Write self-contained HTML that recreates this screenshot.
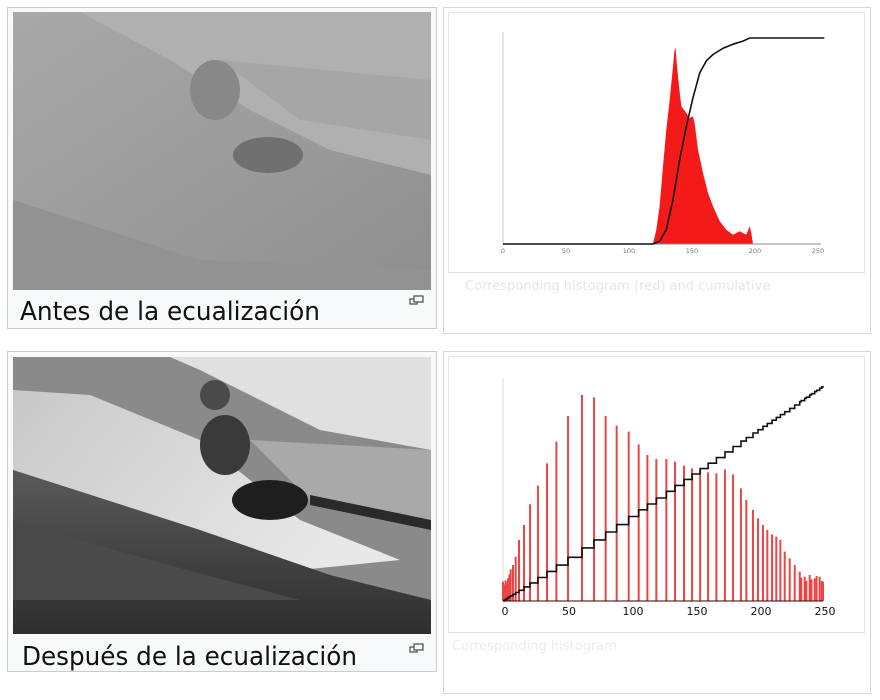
<!DOCTYPE html>
<html><head><meta charset="utf-8">
<style>
html,body{margin:0;padding:0;background:#fff;}
svg{display:block;font-family:"DejaVu Sans","Liberation Sans",sans-serif;}
</style></head>
<body>
<svg id="root" width="880" height="700" viewBox="0 0 880 700">
<defs>
<linearGradient id="gTop" x1="0" y1="0" x2="1" y2="1">
<stop offset="0" stop-color="#a8a8a8"/><stop offset="0.5" stop-color="#9c9c9c"/><stop offset="1" stop-color="#8e8e8e"/>
</linearGradient>
<linearGradient id="gBright" x1="0" y1="0" x2="1" y2="0.4">
<stop offset="0" stop-color="#c8c8c8"/><stop offset="1" stop-color="#e8e8e8"/>
</linearGradient>
<linearGradient id="gDark" x1="0" y1="0" x2="0" y2="1">
<stop offset="0" stop-color="#5a5a5a"/><stop offset="1" stop-color="#2e2e2e"/>
</linearGradient>
</defs>

<g>
<rect x="7.5" y="7.5" width="429" height="321" fill="#f8f9fa" stroke="#c8ccd1"/>
<g>
<rect x="13" y="12" width="418" height="278" fill="url(#gTop)"/>
<polygon points="80,12 431,12 431,175 330,150 250,110 170,60" fill="#b0b0b0"/>
<polygon points="220,60 431,80 431,140 300,120" fill="#a6a6a6"/>
<ellipse cx="268" cy="155" rx="35" ry="18" fill="#707070"/>
<ellipse cx="215" cy="90" rx="25" ry="30" fill="#888"/>
<polygon points="13,200 200,260 431,270 431,290 13,290" fill="#929292"/>
</g>
<text x="20" y="320" font-size="26" fill="#111" textLength="300" lengthAdjust="spacingAndGlyphs">Antes de la ecualización</text>
<g fill="none" stroke="#555" stroke-width="1.3">
<rect x="410" y="299" width="7" height="5"/><rect x="414" y="296" width="9" height="6" fill="#f8f9fa"/>
</g>
</g>

<g>
<rect x="7.5" y="351.5" width="429" height="320" fill="#f8f9fa" stroke="#c8ccd1"/>
<g>
<rect x="13" y="357" width="418" height="277" fill="#8a8a8a"/>
<polygon points="170,357 431,357 431,450 320,430 250,395 200,370" fill="#e0e0e0"/>
<polygon points="250,440 431,450 431,530 310,500" fill="#a9a9a9"/>
<polygon points="13,390 90,395 200,440 300,520 400,560 300,570 200,530 13,470" fill="url(#gBright)"/>
<polygon points="13,470 200,530 330,575 431,600 431,634 13,634" fill="url(#gDark)"/>
<polygon points="13,520 150,560 300,600 13,600" fill="#4a4a4a"/>
<ellipse cx="270" cy="500" rx="38" ry="20" fill="#1e1e1e"/>
<ellipse cx="225" cy="445" rx="25" ry="30" fill="#3a3a3a"/>
<ellipse cx="215" cy="395" rx="15" ry="15" fill="#4a4a4a"/>
<polygon points="310,495 431,520 431,530 310,505" fill="#2a2a2a"/>
</g>
<text x="22" y="665" font-size="26" fill="#111" textLength="335" lengthAdjust="spacingAndGlyphs">Después de la ecualización</text>
<g fill="none" stroke="#555" stroke-width="1.3">
<rect x="410" y="647" width="7" height="5"/><rect x="414" y="644" width="9" height="6" fill="#f8f9fa"/>
</g>
</g>

<rect x="443.5" y="7.5" width="427" height="326" fill="#fff" stroke="#d4d6d9"/>
<rect x="448.5" y="12.5" width="416" height="260" fill="#fff" stroke="#e2e4e6"/>
<text x="465" y="290" font-size="13" fill="#e6e6e6">Corresponding histogram (red) and cumulative</text>
<rect x="443.5" y="351.5" width="427" height="342" fill="#fff" stroke="#d4d6d9"/>
<rect x="448.5" y="356.5" width="416" height="276" fill="#fff" stroke="#e2e4e6"/>
<text x="452" y="650" font-size="13" fill="#ececec">Corresponding histogram</text>

<g id="chart1"></g>
<g id="chart2"></g>
</svg>
<script>
const c1Levels = [119,121.7,124.3,127,129.6,132.3,134.9,136.2,137,138.1,139.7,141.5,145.5,148.1,150.8,152.1,154.8,158.7,162.7,166.7,172,177.2,182.5,187.8,193.1,195.8,197.1,198.4];
const c1Counts = [0,43,113,233,343,433,533,583,588,533,473,413,393,378,383,363,283,213,153,113,68,43,28,38,28,53,33,0];
const c1CdfLevels = [0,119,124.3,129.6,134.9,140.2,145.5,150.8,156.1,161.4,166.7,174.6,182.5,190.5,195.8,255];
const c1CdfValues = [0,0,0.013,0.07,0.215,0.41,0.57,0.71,0.83,0.89,0.92,0.95,0.97,0.985,1,1];
const c1Ticks = [0,50,100,150,200,250];
const c2Levels = [0,1,2,3,3.9,5,6,7.8,9.9,12.5,16.4,21.1,27.3,34.4,41.7,50.8,61.7,71.1,80.2,88.8,98.2,106,112.8,119.8,127.6,134.4,141.4,147.7,154,160.2,166.7,173.4,179.7,185.9,190.1,195.3,199.2,203.1,206.5,210.2,213.5,216.7,220.1,224,227.9,231.8,233,235.7,237,239.6,241,243.5,245,247.4,249,250];
const c2Counts = [58,50,62,55,68,80,95,108,133,183,228,290,346,413,478,555,618,611,555,526,508,470,438,426,426,418,406,398,393,386,383,395,380,338,303,273,248,228,213,200,193,183,148,128,108,88,70,73,60,78,65,68,75,73,60,58];
const c2Ticks = [0,50,100,150,200,250];

const NS='http://www.w3.org/2000/svg';
function mk(parent, tag, attrs){const e=document.createElementNS(NS,tag);for(const k in attrs)e.setAttribute(k,attrs[k]);parent.appendChild(e);return e;}

(function(){
const g=document.getElementById('chart1');
const x0=503,x1=818,yb=244,yTop=32;
const xs=v=>x0+(v/250)*(x1-x0);
const ys=c=>yb-c/3;
const yc=f=>yb-f*206;
const ax=mk(g,'line',{x1:x0,y1:yTop,x2:x0,y2:yb,stroke:'#ccc','stroke-width':1});


let d='M'+xs(c1Levels[0])+','+yb;
c1Levels.forEach((v,i)=>{d+=' L'+xs(v).toFixed(1)+','+ys(c1Counts[i]).toFixed(1);});
d+=' L'+xs(c1Levels[c1Levels.length-1])+','+yb+' Z';
const area=mk(g,'path',{d:d,fill:'#f41a1a'});


const xa=mk(g,'line',{x1:x0,y1:yb,x2:x1+3,y2:yb,stroke:'#888','stroke-width':1});


let p='';
c1CdfLevels.forEach((v,i)=>{p+=(i?' L':'M')+xs(v).toFixed(1)+','+yc(c1CdfValues[i]).toFixed(1);});
const cl=mk(g,'path',{d:p,fill:'none',stroke:'#111','stroke-width':1.6,'stroke-linejoin':'round'});


c1Ticks.forEach(t=>{
 const tx=mk(g,'text',{x:xs(t),y:yb+9,'font-size':6.5,fill:'#777','text-anchor':'middle'});
 tx.textContent=t;
 
 
});
})();

(function(){
const g=document.getElementById('chart2');
const x0=503,x1=823,yb=601,yTop=378;
const xs=v=>x0+(v/250)*(x1-x0);
const ys=c=>yb-c/3;
const ax=mk(g,'line',{x1:x0,y1:yTop,x2:x0,y2:yb,stroke:'#ddd','stroke-width':1});


c2Levels.forEach((v,i)=>{
 const b=mk(g,'line',{x1:xs(v),y1:yb,x2:xs(v),y2:ys(c2Counts[i]),stroke:'#ec4545','stroke-width':2});
 
 
});
const xa=mk(g,'line',{x1:x0,y1:yb,x2:x1,y2:yb,stroke:'#300','stroke-width':1});


const yc=v=>yb-(v/250)*(yb-386);
let p='M'+xs(0)+','+yc(0);
for(let i=1;i<c2Levels.length;i++){
 const v=c2Levels[i];
 p+=' L'+xs(v).toFixed(1)+','+yc(c2Levels[i-1]).toFixed(1)+' L'+xs(v).toFixed(1)+','+yc(v).toFixed(1);
}
const cl=mk(g,'path',{d:p,fill:'none',stroke:'#111','stroke-width':1.6});


c2Ticks.forEach(t=>{
 const tx=mk(g,'text',{x:xs(t)+2,y:yb+14,'font-size':11,fill:'#111','text-anchor':'middle'});
 tx.textContent=t;
 
 
});
})();
</script>
</body></html>
